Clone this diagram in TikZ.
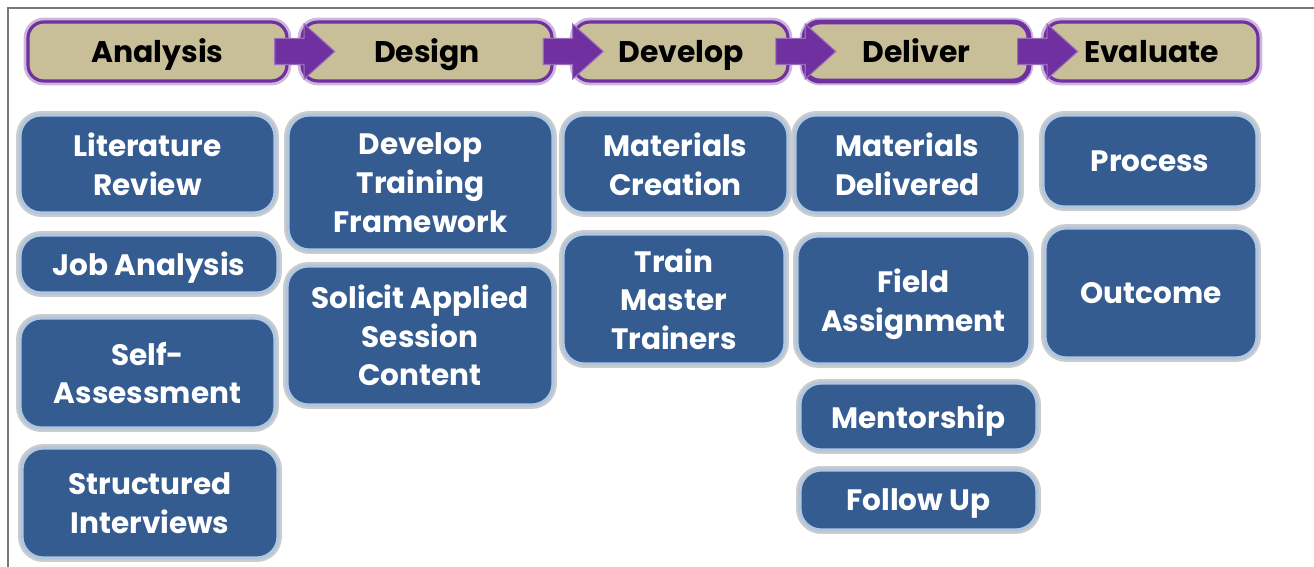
\documentclass[tikz,border=0pt]{standalone}
\usepackage{fontspec}
\setmainfont{Poppins}
\usetikzlibrary{shapes.arrows,calc,positioning}

\definecolor{stagefill}{RGB}{200,190,152}
\definecolor{stagepurple}{RGB}{112,48,160}
\definecolor{taskblue}{RGB}{52,92,145}
\definecolor{taskedge}{RGB}{175,198,225}
\definecolor{framegray}{RGB}{120,120,120}

\tikzset{
  stage/.style={rounded corners=9pt, fill=stagefill, draw=stagepurple, line width=1.8pt,
    preaction={draw=stagepurple!35, line width=5pt}, text=black, inner sep=0pt,
    minimum height=1.18cm, text height=12pt, text depth=0pt,
    font=\fontsize{17}{20}\selectfont\bfseries},
  task/.style={rounded corners=12pt, fill=taskblue, draw=taskedge, line width=1.8pt,
    preaction={draw=black!20, line width=4.5pt}, text=white, align=center, inner sep=0pt,
    text depth=0pt, font=\fontsize{16.8}{22}\selectfont\bfseries},
  stagearrow/.style={single arrow, fill=stagepurple, draw=stagepurple!70, line width=0.6pt,
    inner sep=0pt, inner ysep=0.25cm, minimum height=1.2cm,
    single arrow head extend=0.29cm, single arrow tip angle=84}
}

\begin{document}
\begin{tikzpicture}[x=0.02cm,y=-0.02cm]
  \useasboundingbox (0,0) rectangle (1314,567);

  % Frame lines
  \draw[framegray, line width=0.8pt] (8,567) -- (8,8) -- (1314,8);

  % Stage boxes
  \node[stage, minimum width=5.18cm] (ana) at (157.5,51.5) {Analysis};
  \node[stage, minimum width=5.0cm] (des) at (427,51.5) {Design};
  \node[stage, minimum width=4.28cm] (dev) at (681,51.5) {Develop};
  \node[stage, minimum width=4.5cm, line width=2.8pt] (del) at (916.5,51.5) {Deliver};
  \node[stage, minimum width=4.26cm] (eva) at (1151.5,51.5) {Evaluate};

  % Arrows between stages
  \foreach \a/\b in {ana/des, des/dev, dev/del, del/eva}
    \node[stagearrow] at ($(\a.east)!0.5!(\b.west)+(3,0)$) {};

  % Analysis tasks
  \node[task, minimum width=5.1cm, minimum height=1.96cm] (litrev) at (147.5,164) {Literature\\Review};
  \node[task, minimum width=5.16cm, minimum height=1.16cm] (jobana) at (149,264) {Job Analysis};
  \node[task, minimum width=5.1cm, minimum height=2.2cm] (selfass) at (147.5,373) {Self-\\Assessment};
  \node[task, minimum width=5.12cm, minimum height=2.2cm] (structint) at (150,503) {Structured\\Interviews};

  % Design tasks
  \node[task, minimum width=5.3cm, minimum height=2.7cm] (devframe) at (420.5,182.5) {Develop\\Training\\Framework};
  \node[task, minimum width=5.32cm, minimum height=2.78cm] (solicit) at (420,335.5) {Solicit Applied\\Session\\Content};

  % Develop tasks
  \node[task, minimum width=4.5cm, minimum height=1.96cm] (matcreate) at (675.5,164) {Materials\\Creation};
  \node[task, minimum width=4.44cm, minimum height=2.6cm] (trainmaster) at (674,299) {Train\\Master\\Trainers};

  % Deliver tasks
  \node[task, minimum width=4.5cm, minimum height=1.96cm] (matdeliv) at (907.5,164) {Materials\\Delivered};
  \node[task, minimum width=4.66cm, minimum height=2.56cm] (fieldass) at (913.5,300) {Field\\Assignment};
  \node[task, minimum width=4.74cm, minimum height=1.34cm] (mentor) at (918.5,416.5) {Mentorship};
  \node[task, minimum width=4.74cm, minimum height=1.2cm] (followup) at (918.5,500) {Follow Up};

  % Evaluate tasks
  \node[task, minimum width=4.28cm, minimum height=1.84cm] (process) at (1150,161) {Process};
  \node[task, minimum width=4.24cm, minimum height=2.6cm] (outcome) at (1151,293) {Outcome};

\end{tikzpicture}
\end{document}
